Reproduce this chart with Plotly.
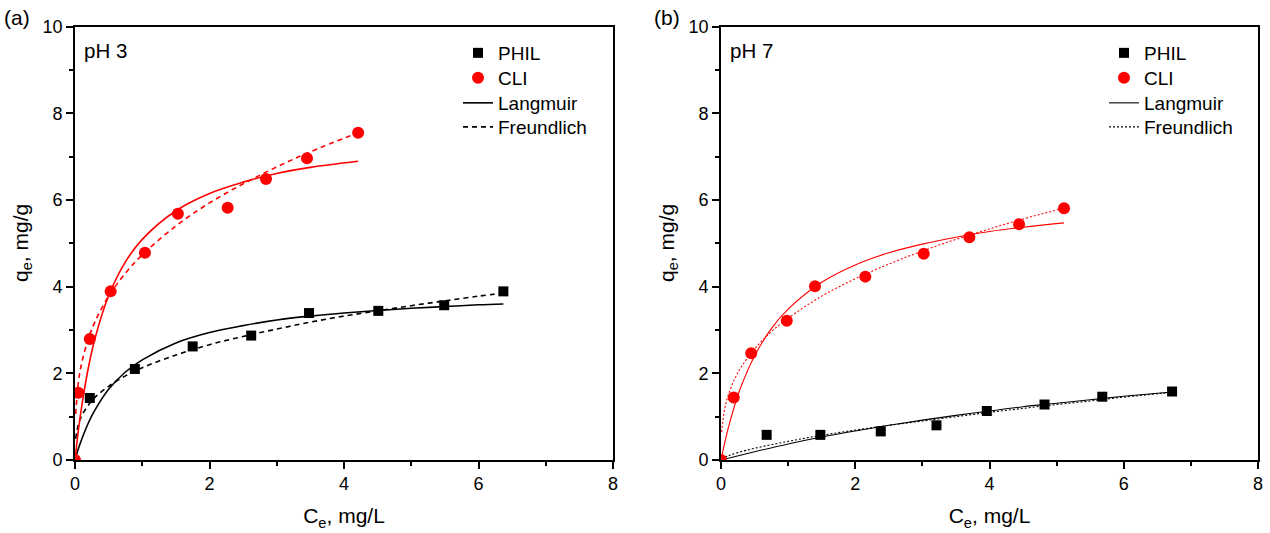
import plotly.graph_objects as go

# ---------------- data ----------------
# Panel (a) pH 3
a_phil_x = [0.22, 0.89, 1.75, 2.62, 3.48, 4.51, 5.49, 6.37]
a_phil_y = [1.43, 2.10, 2.62, 2.87, 3.39, 3.44, 3.57, 3.89]
a_cli_x = [0.0, 0.05, 0.22, 0.53, 1.04, 1.53, 2.27, 2.84, 3.45, 4.21]
a_cli_y = [0.0, 1.55, 2.79, 3.89, 4.78, 5.68, 5.82, 6.48, 6.96, 7.55]

a_cli_lang_x = [0, 0.05, 0.1, 0.2, 0.3, 0.5, 0.75, 1.0, 1.5, 2.0, 2.5, 3.0, 3.5, 4.21]
a_cli_lang_y = [0, 0.68, 1.24, 2.14, 2.82, 3.79, 4.57, 5.09, 5.75, 6.15, 6.41, 6.61, 6.75, 6.89]
a_cli_freu_x = [0.01, 0.05, 0.1, 0.2, 0.3, 0.5, 0.75, 1.0, 1.5, 2.0, 2.5, 3.0, 3.5, 4.21]
a_cli_freu_y = [1.06, 1.79, 2.24, 2.80, 3.20, 3.78, 4.31, 4.73, 5.40, 5.93, 6.37, 6.76, 7.11, 7.55]
a_phil_lang_x = [0, 0.05, 0.1, 0.2, 0.3, 0.5, 0.75, 1.0, 1.5, 2.0, 2.5, 3.0, 3.5, 4.0, 4.5, 5.0, 5.5, 6.0, 6.37]
a_phil_lang_y = [0, 0.26, 0.48, 0.86, 1.16, 1.63, 2.03, 2.31, 2.70, 2.94, 3.10, 3.23, 3.32, 3.39, 3.45, 3.50, 3.54, 3.58, 3.60]
a_phil_freu_x = [0.01, 0.05, 0.1, 0.2, 0.3, 0.5, 0.75, 1.0, 1.5, 2.0, 2.5, 3.0, 3.5, 4.0, 4.5, 5.0, 5.5, 6.0, 6.37]
a_phil_freu_y = [0.49, 0.82, 1.02, 1.27, 1.45, 1.70, 1.94, 2.13, 2.42, 2.66, 2.85, 3.02, 3.18, 3.32, 3.44, 3.56, 3.67, 3.78, 3.85]

# Panel (b) pH 7
b_phil_x = [0.68, 1.48, 2.38, 3.21, 3.96, 4.82, 5.68, 6.72]
b_phil_y = [0.58, 0.58, 0.66, 0.80, 1.13, 1.28, 1.46, 1.58]
b_cli_x = [0.0, 0.19, 0.45, 0.98, 1.40, 2.15, 3.02, 3.70, 4.44, 5.11]
b_cli_y = [0.0, 1.44, 2.46, 3.21, 4.01, 4.23, 4.76, 5.14, 5.44, 5.81]

b_cli_lang_x = [0, 0.05, 0.1, 0.2, 0.3, 0.5, 0.75, 1.0, 1.5, 2.0, 2.5, 3.0, 3.5, 4.0, 4.5, 5.11]
b_cli_lang_y = [0, 0.36, 0.69, 1.24, 1.70, 2.40, 3.03, 3.48, 4.10, 4.50, 4.78, 4.98, 5.14, 5.27, 5.37, 5.47]
b_cli_freu_x = [0.01, 0.05, 0.1, 0.2, 0.3, 0.5, 0.75, 1.0, 1.5, 2.0, 2.5, 3.0, 3.5, 4.0, 4.5, 5.11]
b_cli_freu_y = [0.65, 1.14, 1.46, 1.86, 2.14, 2.56, 2.96, 3.27, 3.78, 4.18, 4.52, 4.82, 5.09, 5.33, 5.56, 5.81]
b_phil_lang_x = [0, 0.5, 1.0, 1.5, 2.0, 2.5, 3.0, 3.5, 4.0, 4.5, 5.0, 5.5, 6.0, 6.72]
b_phil_lang_y = [0, 0.19, 0.37, 0.53, 0.67, 0.80, 0.92, 1.03, 1.13, 1.23, 1.31, 1.39, 1.47, 1.57]
b_phil_freu_x = [0.01, 0.1, 0.25, 0.5, 1.0, 1.5, 2.0, 2.5, 3.0, 3.5, 4.0, 4.5, 5.0, 5.5, 6.0, 6.72]
b_phil_freu_y = [0.02, 0.09, 0.17, 0.27, 0.43, 0.57, 0.69, 0.80, 0.90, 1.00, 1.10, 1.19, 1.28, 1.36, 1.45, 1.56]

x_ticks = [0, 2, 4, 6, 8]
y_ticks = [0, 2, 4, 6, 8, 10]
panel_labels = ["(a)", "(b)"]
ph_labels = ["pH 3", "pH 7"]
names = ["PHIL", "CLI", "Langmuir", "Freundlich"]
x_title = "C<sub>e</sub>, mg/L"
y_title = "q<sub>e</sub>, mg/g"

RED = "#ff0000"
BLACK = "#000000"
FONT = "Liberation Sans, Arial, sans-serif"

W, H = 1270, 533
fig = go.Figure()

panels = [
    dict(xa="x", ya="y", legs=["legend", "legend2", "legend3", "legend4"], leg_x=458,
         phil=(a_phil_x, a_phil_y), cli=(a_cli_x, a_cli_y),
         cl=(a_cli_lang_x, a_cli_lang_y), cf=(a_cli_freu_x, a_cli_freu_y),
         pl=(a_phil_lang_x, a_phil_lang_y), pf=(a_phil_freu_x, a_phil_freu_y),
         lw=1.6, dash="5px,4px"),
    dict(xa="x2", ya="y2", legs=["legend5", "legend6", "legend7", "legend8"], leg_x=1104,
         phil=(b_phil_x, b_phil_y), cli=(b_cli_x, b_cli_y),
         cl=(b_cli_lang_x, b_cli_lang_y), cf=(b_cli_freu_x, b_cli_freu_y),
         pl=(b_phil_lang_x, b_phil_lang_y), pf=(b_phil_freu_x, b_phil_freu_y),
         lw=1.1, dash="2px,2px"),
]

for p in panels:
    ax = dict(xaxis=p["xa"], yaxis=p["ya"])
    L = p["legs"]
    fig.add_trace(go.Scatter(x=p["pl"][0], y=p["pl"][1], mode="lines", line_shape="spline",
                             line=dict(color=BLACK, width=p["lw"]), showlegend=False, **ax))
    fig.add_trace(go.Scatter(x=p["pf"][0], y=p["pf"][1], mode="lines", line_shape="spline",
                             line=dict(color=BLACK, width=p["lw"], dash=p["dash"]), showlegend=False, **ax))
    fig.add_trace(go.Scatter(x=p["cl"][0], y=p["cl"][1], mode="lines", line_shape="spline",
                             line=dict(color=RED, width=p["lw"]), showlegend=False, **ax))
    fig.add_trace(go.Scatter(x=p["cf"][0], y=p["cf"][1], mode="lines", line_shape="spline",
                             line=dict(color=RED, width=p["lw"], dash=p["dash"]), showlegend=False, **ax))
    fig.add_trace(go.Scatter(x=p["phil"][0], y=p["phil"][1], mode="markers", name=names[0], legend=L[0],
                             marker=dict(symbol="square", size=10, color=BLACK), **ax))
    fig.add_trace(go.Scatter(x=p["cli"][0], y=p["cli"][1], mode="markers", name=names[1], legend=L[1],
                             marker=dict(symbol="circle", size=12, color=RED), **ax))
    fig.add_trace(go.Scatter(x=[None], y=[None], mode="lines", name=names[2], legend=L[2],
                             line=dict(color=BLACK, width=p["lw"]), **ax))
    fig.add_trace(go.Scatter(x=[None], y=[None], mode="lines", name=names[3], legend=L[3],
                             line=dict(color=BLACK, width=p["lw"], dash=p["dash"]), **ax))

def axis_common():
    return dict(showline=True, linecolor=BLACK, linewidth=1.6, mirror=True,
                ticks="outside", ticklen=7, tickwidth=1.5, tickcolor=BLACK,
                minor=dict(dtick=1, tick0=0, ticks="outside", ticklen=4, tickwidth=1.5,
                           tickcolor=BLACK, showgrid=False),
                showgrid=False, zeroline=False, automargin=False,
                tickfont=dict(family=FONT, size=18, color=BLACK))

def xaxis(domain, anchor):
    d = axis_common()
    d.update(domain=domain, anchor=anchor, range=[0, 8], tickvals=x_ticks,
             title=dict(text=x_title, font=dict(family=FONT, size=21, color=BLACK), standoff=15))
    return d

def yaxis(domain, anchor):
    d = axis_common()
    d.update(domain=domain, anchor=anchor, range=[0, 10], tickvals=y_ticks)
    return d

ydom = [1 - 460 / H, 1 - 26.5 / H]
LEG_FONT = 19
row_centers = [53, 78, 103, 127]
leg_layout = {}
for p in panels:
    for name, cy in zip(p["legs"], row_centers):
        leg_layout[name] = dict(x=p["leg_x"] / W, y=1 - (cy - 19) / H, xanchor="left", yanchor="top",
                                bgcolor="rgba(0,0,0,0)", itemwidth=30,
                                font=dict(family=FONT, size=LEG_FONT, color=BLACK))

txt = dict(family=FONT, color=BLACK)
fig.update_layout(
    template="none",
    width=W, height=H, margin=dict(l=0, r=0, t=0, b=0),
    paper_bgcolor="white", plot_bgcolor="white",
    font=dict(family=FONT, color=BLACK),
    xaxis=xaxis([75 / W, 613 / W], "y"),
    yaxis=yaxis(ydom, "x"),
    xaxis2=xaxis([721 / W, 1258 / W], "y2"),
    yaxis2=yaxis(ydom, "x2"),
    annotations=[
        dict(text=panel_labels[0], x=2 / W, y=1 - 18 / H, xref="paper", yref="paper",
             xanchor="left", yanchor="middle", showarrow=False, font=dict(size=21, **txt)),
        dict(text=panel_labels[1], x=652 / W, y=1 - 18 / H, xref="paper", yref="paper",
             xanchor="left", yanchor="middle", showarrow=False, font=dict(size=21, **txt)),
        dict(text=ph_labels[0], x=0.11, y=9.44, xref="x", yref="y",
             xanchor="left", yanchor="middle", showarrow=False, font=dict(size=20.5, **txt)),
        dict(text=ph_labels[1], x=0.11, y=9.44, xref="x2", yref="y2",
             xanchor="left", yanchor="middle", showarrow=False, font=dict(size=20.5, **txt)),
        dict(text=y_title, x=22 / W, y=1 - 243 / H, xref="paper", yref="paper", textangle=-90,
             xanchor="center", yanchor="middle", showarrow=False, font=dict(size=21, **txt)),
        dict(text=y_title, x=668 / W, y=1 - 243 / H, xref="paper", yref="paper", textangle=-90,
             xanchor="center", yanchor="middle", showarrow=False, font=dict(size=21, **txt)),
    ],
)
fig.update_layout(**leg_layout)

fig.write_html("out.html", config={"displayModeBar": False},
               post_script="document.body.style.margin='0';")
